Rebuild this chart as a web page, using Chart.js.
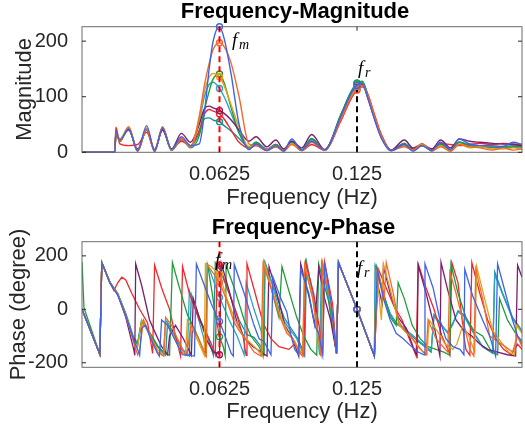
<!DOCTYPE html>
<html>
<head>
<meta charset="utf-8">
<script src="https://cdn.jsdelivr.net/npm/chart.js@4.4.0/dist/chart.umd.min.js"></script>
<style>
  body { margin: 0; background: #fff; }
  canvas { position: absolute; left: 0; }
  #magChart { top: 0; }
  #phaseChart { top: 215px; }
</style>
</head>
<body>
<canvas id="magChart" width="525" height="215"></canvas>
<canvas id="phaseChart" width="525" height="214"></canvas>
<script>
const FM = 0.0625; // modulation frequency
const FR = 0.125;  // reference frequency
const xTicks = [FM, FR];
const magTicks = [0, 100, 200];
const phaseTicks = [-200, 0, 200];

// magnitude spectra, all sampled on the same frequency grid
const freqMag = [0, 0.0149, 0.0154, 0.0172, 0.0212, 0.0253, 0.0294, 0.0330, 0.0366, 0.0407, 0.0452, 0.0493,
  0.0533, 0.0556, 0.0578, 0.0596, 0.0625, 0.0646, 0.0678, 0.0714, 0.0759,
  0.0791, 0.0840, 0.0881, 0.0917, 0.0953, 0.0999, 0.1044, 0.1103,
  0.1175, 0.1220, 0.1250, 0.1274, 0.1300, 0.1324, 0.1360, 0.1405,
  0.1465, 0.1505, 0.1545, 0.1590, 0.1630, 0.1675, 0.1715, 0.1762, 0.1807, 0.1866, 0.1911, 0.1961, 0.2000];

const magBlue = [0, 0, 38, 22, 42, 3, 48, 2, 44, 5, 28, 12, 15, 70, 150, 200, 226, 205, 140, 50, 5,
  15, 3, 12, 2, 24, 4, 20, 4, 63, 103, 120, 124, 97, 66, 26, 3, 14, 2, 12, 3, 18, 5, 24, 15, 12, 12, 10, 18, 14];
const magOrange = [0, 0, 35, 20, 46, 2, 42, 1, 46, 4, 24, 10, 65, 120, 160, 185, 197, 190, 160, 100, 15,
  12, 5, 10, 2, 14, 3, 18, 4, 58, 97, 114, 120, 102, 72, 31, 3, 10, 4, 16, 2, 10, 2, 14, 10, 8, 4, 8, 4, 6];
const magYellow = [0, 0, 36, 24, 45, 3, 44, 3, 45, 4, 25, 10, 60, 110, 135, 142, 136, 120, 85, 45, 10,
  14, 4, 12, 3, 16, 3, 20, 4, 61, 101, 119, 124, 99, 69, 28, 3, 12, 3, 15, 3, 12, 2, 15, 8, 10, 6, 6, 8, 6];
const magPurple = [0, 0, 30, 24, 40, 6, 42, 5, 40, 6, 34, 18, 50, 78, 83, 80, 75, 70, 58, 40, 20,
  28, 10, 22, 6, 20, 8, 32, 5, 62, 102, 118, 122, 96, 67, 28, 4, 22, 8, 14, 6, 22, 8, 24, 20, 18, 16, 15, 14, 12];
const magGreen = [0, 0, 35, 19, 44, 2, 42, 3, 43, 3, 25, 8, 30, 75, 110, 132, 141, 125, 80, 35, 8,
  18, 4, 14, 3, 18, 4, 24, 4, 66, 106, 123, 127, 101, 70, 29, 3, 16, 4, 12, 4, 15, 4, 18, 12, 10, 8, 10, 9, 10];
const magRed = [0, 0, 45, 15, 12, 14, 36, 4, 40, 6, 20, 12, 40, 68, 77, 74, 69, 60, 40, 18, 8,
  12, 3, 10, 6, 16, 3, 14, 4, 55, 94, 112, 118, 104, 75, 33, 4, 12, 6, 14, 6, 16, 14, 12, 14, 16, 14, 16, 15, 14];
const magCyan = [0, 0, 33, 22, 42, 3, 40, 3, 42, 4, 22, 10, 55, 100, 122, 126, 115, 100, 70, 35, 8,
  16, 5, 14, 4, 20, 5, 22, 4, 65, 105, 124, 127, 100, 69, 28, 3, 14, 5, 12, 5, 14, 5, 18, 14, 12, 10, 11, 12, 12];
const magTeal = [0, 0, 34, 20, 43, 3, 43, 2, 44, 4, 24, 10, 35, 60, 62, 58, 55, 48, 38, 25, 10,
  18, 6, 14, 4, 18, 5, 25, 4, 66, 107, 125, 128, 102, 71, 29, 3, 16, 4, 12, 4, 14, 4, 18, 12, 10, 9, 9, 10, 10];

// phase curves as [frequency, degree] pairs (wrapped, so each has its own jumps)
const phaseBlue = [[0,0],[0.0081,-168],[0.0090,175],[0.0127,98],[0.0163,52],[0.0199,-25],[0.0235,-115],[0.0253,-150],[0.0262,-172],[0.0271,-70],[0.0289,-60],[0.0307,-100],[0.0343,-165],[0.0352,-175],[0.0362,-40],[0.0389,-60],[0.0420,-110],[0.0457,-170],[0.0511,-175],[0.0520,170],[0.0556,90],[0.0588,20],[0.0625,-46],[0.0646,-90],[0.0678,-165],[0.0688,-175],[0.0692,168],[0.0737,60],[0.0782,-60],[0.0805,-110],[0.0827,-120],[0.0859,-170],[0.0868,120],[0.0904,40],[0.0931,-10],[0.0949,-95],[0.0967,-150],[0.0985,-170],[0.0994,150],[0.1031,60],[0.1058,-60],[0.1076,-90],[0.1094,-170],[0.1103,175],[0.1130,40],[0.1157,-165],[0.1166,175],[0.125,0],[0.1329,-175],[0.1342,150],[0.1370,40],[0.1401,-40],[0.1428,-90],[0.1460,-110],[0.1492,-135],[0.1528,-160],[0.1555,-170],[0.1559,170],[0.1596,80],[0.1627,-40],[0.1654,-110],[0.1686,-140],[0.1718,-150],[0.1736,-170],[0.1740,150],[0.1776,50],[0.1821,-40],[0.1853,-100],[0.1880,-175],[0.1889,170],[0.1925,60],[0.1957,-40],[0.1980,-100],[0.2,-120]];
const phaseOrange = [[0,0],[0.0081,-168],[0.0090,175],[0.0127,100],[0.0163,56],[0.0199,-20],[0.0235,-125],[0.0253,-170],[0.0262,-150],[0.0280,-40],[0.0307,-90],[0.0343,-160],[0.0371,-175],[0.0380,-30],[0.0407,-60],[0.0434,-110],[0.0470,-170],[0.0479,-150],[0.0497,-60],[0.0524,-100],[0.0551,-150],[0.0565,-175],[0.0570,165],[0.0625,103],[0.0659,30],[0.0692,-50],[0.0714,-80],[0.0750,-120],[0.0782,-160],[0.0814,-175],[0.0823,170],[0.0859,80],[0.0895,-20],[0.0931,-90],[0.0958,-110],[0.0985,-160],[0.1003,-175],[0.1012,160],[0.1049,40],[0.1076,-100],[0.1085,-175],[0.1094,170],[0.1130,30],[0.1157,-165],[0.1166,175],[0.125,0],[0.1329,-175],[0.1347,140],[0.1374,40],[0.1383,175],[0.1415,60],[0.1437,-40],[0.1465,-80],[0.1492,-100],[0.1528,-140],[0.1564,-170],[0.1573,-40],[0.1609,-110],[0.1641,-140],[0.1663,-160],[0.1672,140],[0.1700,60],[0.1731,-40],[0.1763,-150],[0.1781,-175],[0.1790,150],[0.1821,40],[0.1853,-100],[0.1889,-120],[0.1925,-140],[0.1957,-160],[0.1980,-100],[0.2,-140]];
const phaseYellow = [[0,0],[0.0081,-168],[0.0090,175],[0.0127,100],[0.0163,55],[0.0199,-22],[0.0235,-118],[0.0253,-140],[0.0271,-40],[0.0307,-95],[0.0343,-150],[0.0371,-172],[0.0380,-50],[0.0416,-100],[0.0443,-150],[0.0470,-172],[0.0479,-40],[0.0506,-80],[0.0533,-130],[0.0556,-172],[0.0561,172],[0.0588,160],[0.0625,130],[0.0659,40],[0.0696,-40],[0.0732,-100],[0.0759,-120],[0.0796,-150],[0.0818,-175],[0.0827,175],[0.0859,90],[0.0895,-10],[0.0931,-80],[0.0967,-120],[0.0994,-160],[0.1003,-175],[0.1012,170],[0.1049,40],[0.1076,-130],[0.1089,-172],[0.1094,172],[0.1130,35],[0.1157,-165],[0.1166,175],[0.125,0],[0.1329,-175],[0.1338,150],[0.1361,-40],[0.1370,170],[0.1406,60],[0.1442,-60],[0.1478,-90],[0.1514,-120],[0.1550,-160],[0.1568,-170],[0.1578,-40],[0.1614,-80],[0.1650,-130],[0.1686,-150],[0.1704,-130],[0.1731,-60],[0.1758,-100],[0.1785,-160],[0.1794,160],[0.1830,40],[0.1867,-80],[0.1903,-120],[0.1939,-160],[0.1966,-170],[0.1975,-60],[0.2,-90]];
const phasePurple = [[0,0],[0.0081,-168],[0.0090,175],[0.0127,100],[0.0163,54],[0.0199,-30],[0.0235,-150],[0.0240,-172],[0.0244,170],[0.0271,90],[0.0307,-40],[0.0334,-90],[0.0362,-140],[0.0389,-170],[0.0398,-100],[0.0425,-60],[0.0461,-110],[0.0497,-172],[0.0506,40],[0.0533,-30],[0.0570,-120],[0.0597,-160],[0.0619,-165],[0.0625,-170],[0.0633,172],[0.0669,70],[0.0705,-50],[0.0741,-110],[0.0778,-140],[0.0814,-160],[0.0841,-175],[0.0850,160],[0.0886,60],[0.0922,-60],[0.0958,-110],[0.0985,-175],[0.0994,170],[0.1031,50],[0.1058,-60],[0.1076,155],[0.1103,40],[0.1130,-40],[0.1157,-165],[0.1166,175],[0.125,0],[0.1329,-175],[0.1342,100],[0.1365,20],[0.1370,160],[0.1401,60],[0.1437,-30],[0.1474,-70],[0.1505,-140],[0.1523,-175],[0.1528,165],[0.1564,60],[0.1600,-60],[0.1627,-175],[0.1632,175],[0.1663,70],[0.1700,-40],[0.1736,-80],[0.1772,-100],[0.1808,-130],[0.1844,-150],[0.1889,-160],[0.1934,-170],[0.1971,-175],[0.1980,165],[0.2,120]];
const phaseGreen = [[0,178],[0.0009,5],[0.0081,-168],[0.0090,175],[0.0127,102],[0.0163,58],[0.0199,-18],[0.0235,-112],[0.0253,-132],[0.0271,-42],[0.0307,-88],[0.0343,-138],[0.0380,-165],[0.0398,-172],[0.0411,175],[0.0443,80],[0.0479,-20],[0.0515,-80],[0.0551,-150],[0.0561,-170],[0.0570,172],[0.0592,60],[0.0606,-20],[0.0625,-103],[0.0642,-140],[0.0651,-175],[0.0655,165],[0.0692,80],[0.0737,-40],[0.0768,-100],[0.0805,-140],[0.0823,-172],[0.0827,175],[0.0859,80],[0.0895,-30],[0.0909,160],[0.0940,70],[0.0976,-30],[0.1008,-100],[0.1040,-150],[0.1067,-172],[0.1076,170],[0.1121,30],[0.1157,-165],[0.1166,175],[0.125,0],[0.1329,-175],[0.1338,160],[0.1374,50],[0.1401,-30],[0.1428,-60],[0.1437,100],[0.1465,40],[0.1501,-60],[0.1537,-110],[0.1573,-140],[0.1609,-150],[0.1645,-160],[0.1672,-172],[0.1677,170],[0.1709,60],[0.1745,-30],[0.1781,-80],[0.1821,-100],[0.1862,-160],[0.1889,-170],[0.1898,40],[0.1934,-40],[0.1971,-90],[0.2,-130]];
const phaseRed = [[0,0],[0.0081,-168],[0.0090,175],[0.0127,100],[0.0145,70],[0.0163,100],[0.0181,120],[0.0199,110],[0.0226,60],[0.0262,0],[0.0298,-50],[0.0321,-165],[0.0330,165],[0.0362,80],[0.0398,0],[0.0425,-100],[0.0448,-175],[0.0457,160],[0.0488,60],[0.0533,-40],[0.0561,-80],[0.0588,-130],[0.0606,-170],[0.0615,175],[0.0625,165],[0.0660,80],[0.0696,0],[0.0732,-100],[0.0746,-172],[0.0750,170],[0.0787,60],[0.0823,-50],[0.0859,-110],[0.0895,-140],[0.0940,-150],[0.0967,-130],[0.0994,-160],[0.1008,-172],[0.1017,175],[0.1053,60],[0.1085,-100],[0.1094,-172],[0.1103,175],[0.1139,20],[0.1157,-165],[0.1166,175],[0.125,0],[0.1329,-175],[0.1347,150],[0.1383,80],[0.1419,10],[0.1455,-40],[0.1492,-120],[0.1519,-175],[0.1528,170],[0.1564,80],[0.1600,0],[0.1636,-100],[0.1663,-150],[0.1672,-170],[0.1681,175],[0.1709,100],[0.1736,-100],[0.1745,-150],[0.1763,-172],[0.1772,175],[0.1808,60],[0.1844,-40],[0.1880,-110],[0.1916,-150],[0.1952,-170],[0.1980,-130],[0.2,-150]];
const phaseCyan = [[0,0],[0.0081,-168],[0.0090,176],[0.0127,102],[0.0163,58],[0.0199,-15],[0.0235,-105],[0.0253,-125],[0.0271,-40],[0.0307,-85],[0.0343,-135],[0.0371,-170],[0.0380,-40],[0.0416,-90],[0.0452,-150],[0.0479,-172],[0.0488,70],[0.0524,-20],[0.0551,-100],[0.0565,-165],[0.0570,170],[0.0625,45],[0.0669,-40],[0.0705,-100],[0.0737,-170],[0.0746,100],[0.0782,0],[0.0814,-80],[0.0827,-175],[0.0832,175],[0.0868,85],[0.0904,-25],[0.0940,-70],[0.0976,-110],[0.1008,-172],[0.1017,175],[0.1053,45],[0.1080,-170],[0.1089,175],[0.1121,45],[0.1157,-165],[0.1166,175],[0.125,0],[0.1329,-175],[0.1333,160],[0.1370,55],[0.1401,-15],[0.1428,-50],[0.1460,-65],[0.1492,-90],[0.1528,-115],[0.1559,-135],[0.1587,-155],[0.1600,-25],[0.1627,-55],[0.1663,-85],[0.1686,-50],[0.1709,-10],[0.1736,-25],[0.1776,-85],[0.1821,-140],[0.1867,-160],[0.1876,130],[0.1912,55],[0.1957,-35],[0.2,-85]];
const phaseTeal = [[0,0],[0.0081,-168],[0.0090,175],[0.0127,100],[0.0163,55],[0.0199,-20],[0.0235,-110],[0.0253,-130],[0.0271,-45],[0.0307,-90],[0.0343,-140],[0.0380,-172],[0.0389,-50],[0.0420,-95],[0.0457,-150],[0.0488,-175],[0.0497,55],[0.0533,-30],[0.0570,-100],[0.0597,-172],[0.0606,175],[0.0625,152],[0.0669,60],[0.0714,-40],[0.0750,-95],[0.0782,-105],[0.0814,-140],[0.0823,-172],[0.0832,175],[0.0872,80],[0.0918,-30],[0.0949,-70],[0.0985,-115],[0.1012,-172],[0.1021,175],[0.1053,40],[0.1085,-172],[0.1094,175],[0.1121,40],[0.1157,-165],[0.1166,175],[0.125,0],[0.1329,-175],[0.1333,160],[0.1370,55],[0.1401,-20],[0.1428,-55],[0.1460,-70],[0.1492,-95],[0.1528,-120],[0.1559,-140],[0.1587,-160],[0.1600,-20],[0.1627,-50],[0.1663,-90],[0.1686,-55],[0.1709,-5],[0.1736,-20],[0.1776,-80],[0.1821,-140],[0.1867,-165],[0.1876,140],[0.1912,60],[0.1957,-30],[0.2,-80]];

const colors = ['#3f63e6', '#f26b2e', '#e3a21a', '#7b1e6e', '#1e9b3a', '#f0282e', '#2ba3c4', '#1a8f95'];
const magData = [magBlue, magOrange, magYellow, magPurple, magGreen, magRed, magCyan, magTeal];
const phaseData = [phaseBlue, phaseOrange, phaseYellow, phasePurple, phaseGreen, phaseRed, phaseCyan, phaseTeal];

const FONT = "'Liberation Sans', Arial, Helvetica, sans-serif";

// circles only at fm and fr, like the matlab markers
function markerRadius(ctx) {
  const x = ctx.raw && ctx.raw.x;
  return x === FM || x === FR ? 3 : 0;
}

// title, box, inward ticks, dashed frequency lines and f_m / f_r labels
const matlabAxes = {
  id: "matlabAxes",
  afterDraw(chart, args, opts) {
    const { ctx } = chart;
    ctx.save();
    ctx.fillStyle = "#000";
    ctx.font = "bold 22px " + FONT;
    ctx.textAlign = "center";
    ctx.textBaseline = "middle";
    ctx.fillText(opts.title, opts.titleX, opts.titleY);
    ctx.restore();
  },
  afterDatasetsDraw(chart, args, opts) {
    const { ctx, chartArea: a, scales } = chart;
    const xs = scales.x, ys = scales.y;
    ctx.save();
    ctx.lineWidth = 2;
    ctx.setLineDash([6, 4]);
    opts.lines.forEach((l) => {
      const px = xs.getPixelForValue(l.at);
      const y0 = l.from == null ? a.bottom : ys.getPixelForValue(l.from);
      const y1 = l.to == null ? a.top : ys.getPixelForValue(l.to);
      ctx.strokeStyle = l.color;
      ctx.beginPath();
      ctx.moveTo(px, y0);
      ctx.lineTo(px, y1);
      ctx.stroke();
    });
    ctx.setLineDash([]);

    ctx.fillStyle = "#000";
    ctx.textBaseline = "alphabetic";
    ctx.textAlign = "left";
    opts.labels.forEach((t) => {
      const px = xs.getPixelForValue(t.at) + t.dx;
      const py = a.top + t.dy;
      ctx.font = "italic 19px 'Liberation Serif', 'Times New Roman', serif";
      ctx.fillText("f", px, py);
      ctx.font = "italic 14px 'Liberation Serif', 'Times New Roman', serif";
      ctx.fillText(t.sub, px + 7, py + 3);
    });

    ctx.strokeStyle = "#6b6b6b";
    ctx.lineWidth = 1;
    ctx.strokeRect(a.left, a.top, a.right - a.left, a.bottom - a.top);
    ctx.strokeStyle = "#262626";
    ys.ticks.forEach((t) => {
      const py = ys.getPixelForValue(t.value);
      ctx.beginPath();
      ctx.moveTo(a.left, py); ctx.lineTo(a.left + 4, py);
      ctx.moveTo(a.right, py); ctx.lineTo(a.right - 4, py);
      ctx.stroke();
    });
    xs.ticks.forEach((t) => {
      const px = xs.getPixelForValue(t.value);
      ctx.beginPath();
      ctx.moveTo(px, a.bottom); ctx.lineTo(px, a.bottom - 4);
      ctx.moveTo(px, a.top); ctx.lineTo(px, a.top + 4);
      ctx.stroke();
    });
    ctx.restore();
  },
};

function makeChart(id, datasets, cfg) {
  return new Chart(document.getElementById(id), {
    type: "line",
    data: { datasets },
    options: {
      responsive: false,
      animation: false,
      devicePixelRatio: 1,
      layout: { padding: { left: 0, right: 3, top: 26.7, bottom: 0 } },
      plugins: {
        legend: { display: false },
        tooltip: { enabled: false },
        title: { display: false },
        matlabAxes: {
          title: cfg.title, titleX: cfg.titleX, titleY: cfg.titleY,
          lines: cfg.lines, labels: cfg.labels,
        },
      },
      scales: {
        x: {
          type: "linear",
          min: 0,
          max: 0.2,
          afterBuildTicks: (s) => { s.ticks = xTicks.map((v) => ({ value: v })); },
          afterFit: (s) => { s.height = cfg.xHeight; },
          grid: { display: false },
          border: { display: false },
          ticks: {
            autoSkip: false,
            maxRotation: 0,
            padding: 2,
            color: "#262626",
            font: { family: FONT, size: 20 },
            callback: (v) => String(v),
          },
          title: {
            display: true,
            text: "Frequency (Hz)",
            color: "#262626",
            font: { family: FONT, size: 22, lineHeight: 1 },
            padding: { top: 0, bottom: cfg.xTitlePad },
          },
        },
        y: {
          min: cfg.yMin,
          max: cfg.yMax,
          afterBuildTicks: (s) => { s.ticks = cfg.yTicks.map((v) => ({ value: v })); },
          afterFit: (s) => { s.width = 82; },
          grid: { display: false },
          border: { display: false },
          ticks: {
            padding: 6,
            color: "#262626",
            font: { family: FONT, size: 20 },
            callback: (v) => String(v),
          },
          title: {
            display: true,
            text: cfg.yTitle,
            color: "#262626",
            font: { family: FONT, size: 22, lineHeight: 1 },
            padding: { top: cfg.yTitlePad, bottom: 0 },
          },
        },
      },
    },
    plugins: [matlabAxes],
  });
}

const magDatasets = magData.map((vals, i) => ({
  data: freqMag.map((f, k) => ({ x: f, y: vals[k] })),
  borderColor: colors[i],
  borderWidth: 1.4,
  cubicInterpolationMode: "monotone",
  pointRadius: markerRadius,
  pointBackgroundColor: "rgba(0,0,0,0)",
  pointBorderColor: colors[i],
  pointBorderWidth: 1.4,
  clip: 5,
}));

const phaseDatasets = phaseData.map((pairs, i) => ({
  data: pairs.map((p) => ({ x: p[0], y: p[1] })),
  borderColor: colors[i],
  borderWidth: 1.3,
  tension: 0,
  pointRadius: markerRadius,
  pointBackgroundColor: "rgba(0,0,0,0)",
  pointBorderColor: colors[i],
  pointBorderWidth: 1.3,
  clip: 0,
}));

makeChart("magChart", magDatasets, {
  title: "Frequency-Magnitude",
  titleX: 295,
  titleY: 11.5,
  xHeight: 62.7,
  xTitlePad: 6,
  yMin: 0,
  yMax: 226,
  yTicks: magTicks,
  yTitle: "Magnitude",
  yTitlePad: 14,
  lines: [
    { at: FM, from: 0, to: 226, color: "#ff0000" },
    { at: FR, from: 0, to: 112, color: "#000000" },
  ],
  labels: [
    { at: FM, dx: 12.5, dy: 19.5, sub: "m" },
    { at: FR, dx: 1, dy: 47.5, sub: "r" },
  ],
});

makeChart("phaseChart", phaseDatasets, {
  title: "Frequency-Phase",
  titleX: 303.5,
  titleY: 12.7,
  xHeight: 61.7,
  xTitlePad: 6,
  yMin: -217,
  yMax: 253,
  yTicks: phaseTicks,
  yTitle: "Phase (degree)",
  yTitlePad: 7.5,
  lines: [
    { at: FM, color: "#ff0000" },
    { at: FR, color: "#000000" },
  ],
  labels: [
    { at: FM, dx: -4.5, dy: 24.5, sub: "m" },
    { at: FR, dx: 0, dy: 32.5, sub: "r" },
  ],
});
</script>
</body>
</html>
